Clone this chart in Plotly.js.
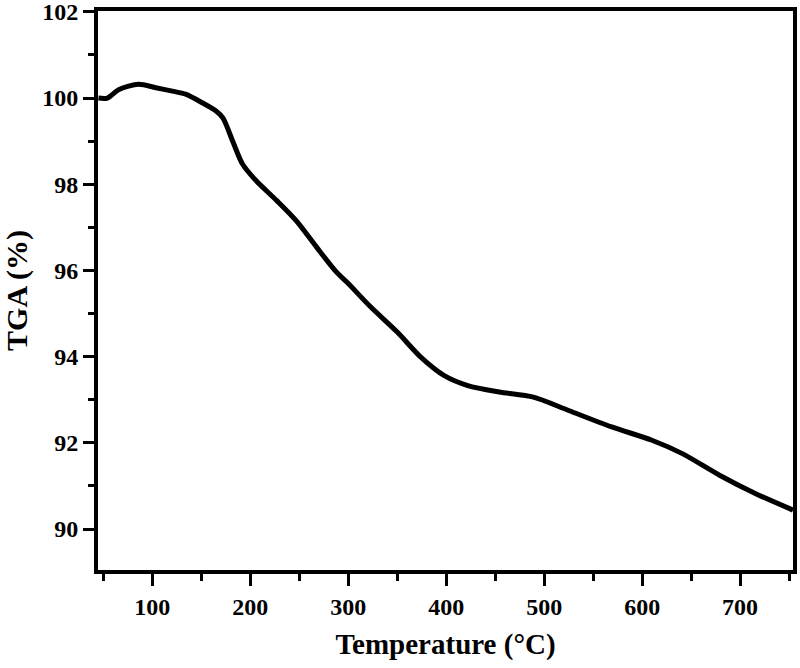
<!DOCTYPE html>
<html>
<head>
<meta charset="utf-8">
<script src="https://cdn.plot.ly/plotly-3.0.1.min.js"></script>
<style>html,body{margin:0;padding:0;background:#fff;}#chart{width:800px;height:668px;}</style>
</head>
<body>
<div id="chart"></div>
<script>
const temperature = [45, 54, 66, 86, 103.5, 120.5, 134, 151, 165, 172, 182, 192, 206, 227, 247, 268, 288, 299, 323, 350, 374, 398, 422, 454, 489, 525, 569, 610, 641, 679, 716, 754];
const tga = [100.0, 100.0, 100.2, 100.32, 100.24, 100.16, 100.09, 99.89, 99.70, 99.54, 99.0, 98.47, 98.08, 97.62, 97.15, 96.53, 95.96, 95.72, 95.15, 94.57, 93.99, 93.56, 93.33, 93.18, 93.06, 92.75, 92.37, 92.06, 91.75, 91.25, 90.82, 90.44];
const xTitle = 'Temperature (°C)';
const yTitle = 'TGA (%)';

const font = 'Liberation Serif, Times New Roman, serif';
Plotly.newPlot('chart', [{
  x: temperature, y: tga, type: 'scatter', mode: 'lines',
  line: {color: '#000', width: 5, shape: 'spline', smoothing: 0.8}
}], {
  width: 800, height: 668,
  margin: {l: 98, r: 7, t: 11, b: 98},
  paper_bgcolor: '#fff', plot_bgcolor: '#fff',
  showlegend: false,
  font: {family: font, color: '#000'},
  xaxis: {
    range: [44.5, 754], tick0: 100, dtick: 100,
    showgrid: false, zeroline: false,
    showline: true, linewidth: 4, linecolor: '#000', mirror: true,
    ticks: 'outside', ticklen: 12, tickwidth: 3, tickcolor: '#000',
    minor: {dtick: 50, tick0: 50, ticks: 'outside', ticklen: 7, tickwidth: 3, tickcolor: '#000', showgrid: false},
    tickfont: {family: font, size: 24, weight: 'bold'},
    ticklabeloverflow: 'allow',
    title: {text: '<b>' + xTitle + '</b>', font: {family: font, size: 29}, standoff: 16}
  },
  yaxis: {
    range: [89.05, 102.02], tick0: 90, dtick: 2,
    showgrid: false, zeroline: false,
    showline: true, linewidth: 4, linecolor: '#000', mirror: true,
    ticks: 'outside', ticklen: 11, tickwidth: 3, tickcolor: '#000',
    minor: {dtick: 1, ticks: 'outside', ticklen: 6, tickwidth: 3, tickcolor: '#000', showgrid: false},
    tickfont: {family: font, size: 24, weight: 'bold'},
    ticklabeloverflow: 'allow',
    title: {text: '<b>' + yTitle + '</b>', font: {family: font, size: 30}, standoff: 14}
  }
}, {displayModeBar: false, staticPlot: true});
</script>
</body>
</html>
